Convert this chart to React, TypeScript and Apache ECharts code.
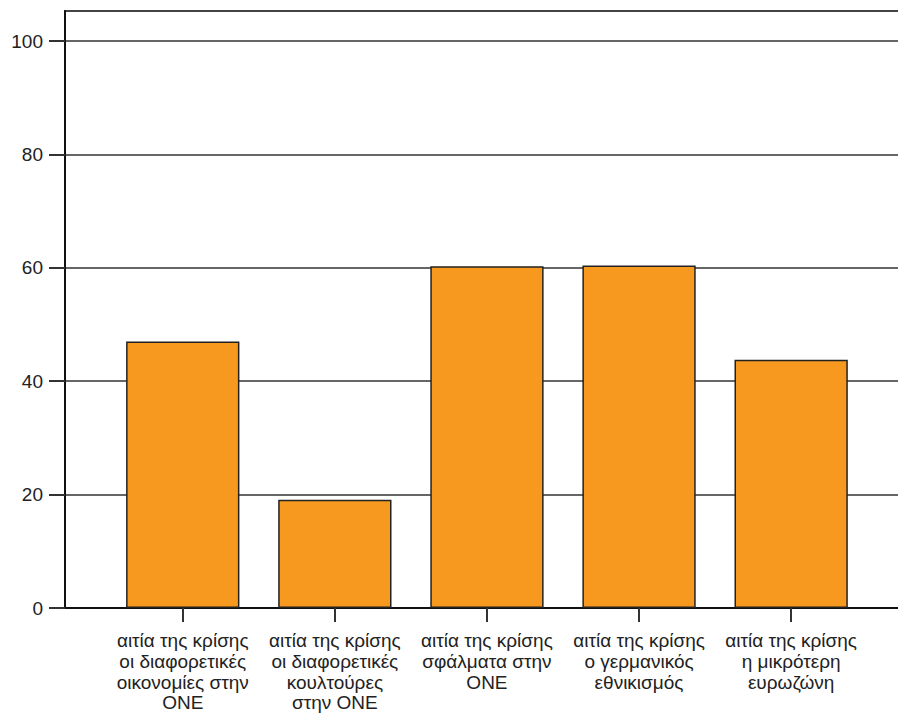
import React, { useEffect, useRef } from "react";
import * as echarts from "echarts";

const categories = [
  "αιτία της κρίσης\nοι διαφορετικές\nοικονομίες στην\nΟΝΕ",
  "αιτία της κρίσης\nοι διαφορετικές\nκουλτούρες\nστην ΟΝΕ",
  "αιτία της κρίσης\nσφάλματα στην\nΟΝΕ",
  "αιτία της κρίσης\nο γερμανικός\nεθνικισμός",
  "αιτία της κρίσης\nη μικρότερη\nευρωζώνη",
];
const values = [47.0, 19.1, 60.3, 60.4, 43.8];
const yTicks = [0, 20, 40, 60, 80, 100];

const FONT = "Liberation Sans, Arial, sans-serif";

export default function App() {
  const ref = useRef<HTMLDivElement>(null);
  useEffect(() => {
    if (!ref.current) return;
    const chart = echarts.init(ref.current, undefined, { renderer: "svg" });
    const yMax = 105.3;
    chart.setOption({
      animation: false,
      backgroundColor: "#ffffff",
      grid: [
        {
          left: 65,
          top: 11,
          right: -10,
          bottom: 108,
          show: true,
          borderColor: "#444",
          borderWidth: 2,
          backgroundColor: "transparent",
          containLabel: false,
          outerBoundsMode: "none",
        },
        {
          left: 106.7,
          width: 760.5,
          top: 11,
          bottom: 108,
          containLabel: false,
          outerBoundsMode: "none",
        },
      ],
      xAxis: [
        {
          gridIndex: 0,
          type: "value",
          min: 0,
          max: 1,
          axisLine: { show: true, onZero: false, lineStyle: { color: "#111", width: 2 } },
          axisTick: { show: false },
          axisLabel: { show: false },
          splitLine: { show: false },
        },
        {
          gridIndex: 1,
          type: "category",
          data: categories,
          axisLine: { show: false },
          axisTick: {
            show: true,
            alignWithLabel: true,
            length: 14,
            lineStyle: { color: "#333", width: 2 },
          },
          axisLabel: {
            interval: 0,
            margin: 22,
            fontFamily: FONT,
            fontSize: 19,
            lineHeight: 20.8,
            color: "#222",
            align: "center",
          },
        },
      ],
      yAxis: [
        {
          gridIndex: 0,
          type: "value",
          min: 0,
          max: yMax,
          axisLine: { show: true, onZero: false, lineStyle: { color: "#111", width: 2 } },
          axisTick: {
            show: true,
            length: 16,
            customValues: yTicks,
            lineStyle: { color: "#333", width: 2 },
          },
          axisLabel: {
            customValues: yTicks,
            margin: 22,
            fontFamily: FONT,
            fontSize: 19,
            color: "#222",
          },
          splitLine: { show: true, lineStyle: { color: "#333", width: 1.5 } },
        },
        {
          gridIndex: 1,
          type: "value",
          min: 0,
          max: yMax,
          show: false,
          splitLine: { show: false },
        },
      ],
      series: [
        {
          type: "bar",
          xAxisIndex: 1,
          yAxisIndex: 1,
          data: values,
          barWidth: "74.5%",
          itemStyle: { color: "#F8991F", borderColor: "#222", borderWidth: 1.5 },
        },
      ],
    });
    return () => chart.dispose();
  }, []);
  return (
    <div
      ref={ref}
      style={{ position: "fixed", left: 0, top: 0, width: 898, height: 716 }}
    />
  );
}
